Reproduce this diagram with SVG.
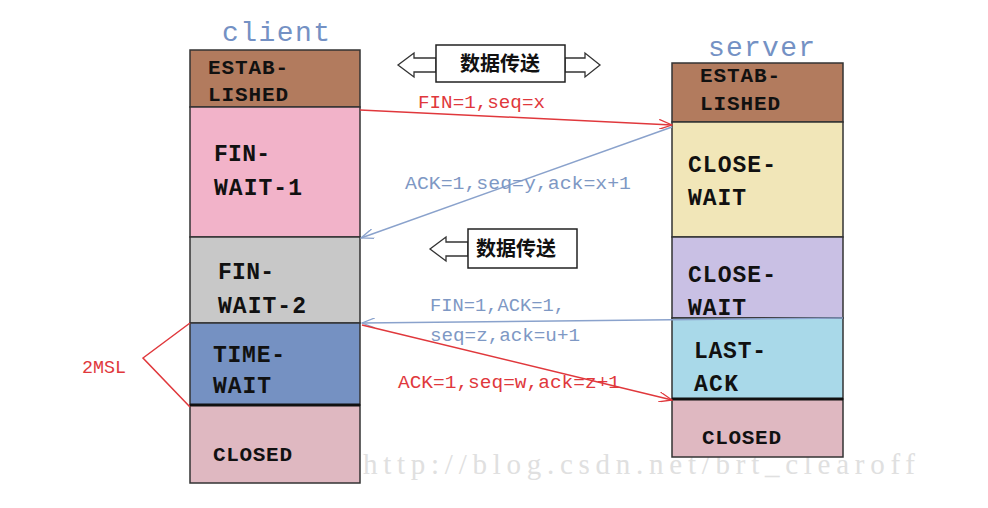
<svg xmlns="http://www.w3.org/2000/svg" width="988" height="508" viewBox="0 0 988 508">
<defs>
<style>
.st{font-family:"Liberation Mono","DejaVu Sans Mono",monospace;font-weight:bold;fill:#111;}
.hd{font-family:"Liberation Mono","DejaVu Sans Mono",monospace;fill:#7491c4;font-size:28px;}
.lr{font-family:"Liberation Mono","DejaVu Sans Mono",monospace;fill:#e0383c;font-size:18px;}
.lb{font-family:"Liberation Mono","DejaVu Sans Mono",monospace;fill:#7e98c4;font-size:18px;}
.cn{font-family:"Noto Sans CJK SC",sans-serif;font-weight:bold;font-size:20px;fill:#111;}
.box{stroke:#333;stroke-width:1.5;}
.red{stroke:#e0383c;stroke-width:1.5;fill:none;}
.blue{stroke:#8aa2cc;stroke-width:1.5;fill:none;}
.hol{fill:#fff;stroke:#333;stroke-width:1.3;}
</style>
<marker id="ar" markerWidth="14" markerHeight="10" refX="13" refY="5" orient="auto" markerUnits="userSpaceOnUse"><path d="M0,0 L13,5 L0,10" fill="none" stroke="#e0383c" stroke-width="1.3"/></marker>
<marker id="ab" markerWidth="14" markerHeight="10" refX="13" refY="5" orient="auto" markerUnits="userSpaceOnUse"><path d="M0,0 L13,5 L0,10" fill="none" stroke="#8aa2cc" stroke-width="1.3"/></marker>
</defs>
<rect width="988" height="508" fill="#fff"/>

<text x="363" y="474" font-family="Liberation Serif,serif" font-size="29" fill="#e0e0e0" textLength="552">http://blog.csdn.net/brt_clearoff</text>

<text class="hd" x="222" y="41" textLength="108">client</text>
<text class="hd" x="708" y="56" textLength="107">server</text>

<g id="client-established"><rect class="box" x="190" y="50" width="170" height="57" fill="#b27b5e"/><text class="st" x="208" y="74" font-size="21" textLength="80">ESTAB-</text><text class="st" x="208" y="101" font-size="21" textLength="80">LISHED</text></g>
<g id="client-finwait1"><rect class="box" x="190" y="107" width="170" height="130" fill="#f2b3c9"/><text class="st" x="214" y="161" font-size="23" textLength="56">FIN-</text><text class="st" x="214" y="195" font-size="23" textLength="88">WAIT-1</text></g>
<g id="client-finwait2"><rect class="box" x="190" y="237" width="170" height="86" fill="#c8c8c8"/><text class="st" x="218" y="279" font-size="23" textLength="56">FIN-</text><text class="st" x="218" y="313" font-size="23" textLength="88">WAIT-2</text></g>
<g id="client-timewait"><rect class="box" x="190" y="323" width="170" height="82" fill="#7591c2"/><text class="st" x="213" y="362" font-size="23" textLength="72">TIME-</text><text class="st" x="213" y="393" font-size="23" textLength="58">WAIT</text></g>
<g id="client-closed"><rect class="box" x="190" y="405" width="170" height="78" fill="#dfb8c1"/><text class="st" x="213" y="461" font-size="21" textLength="79">CLOSED</text></g>
<line x1="190" y1="405" x2="360" y2="405" stroke="#111" stroke-width="3"/>

<g id="server-established"><rect class="box" x="672" y="63" width="171" height="59" fill="#b27b5e"/><text class="st" x="700" y="82" font-size="21" textLength="80">ESTAB-</text><text class="st" x="700" y="110" font-size="21" textLength="80">LISHED</text></g>
<g id="server-closewait1"><rect class="box" x="672" y="122" width="171" height="115" fill="#f1e6b8"/><text class="st" x="688" y="172" font-size="23" textLength="88">CLOSE-</text><text class="st" x="688" y="205" font-size="23" textLength="58">WAIT</text></g>
<g id="server-closewait2"><rect class="box" x="672" y="237" width="171" height="81" fill="#c9c0e4"/><text class="st" x="688" y="282" font-size="23" textLength="88">CLOSE-</text><text class="st" x="688" y="315" font-size="23" textLength="58">WAIT</text></g>
<g id="server-lastack"><rect class="box" x="672" y="318" width="171" height="81" fill="#a9d9e9"/><text class="st" x="694" y="358" font-size="23" textLength="72">LAST-</text><text class="st" x="694" y="391" font-size="23" textLength="44">ACK</text></g>
<g id="server-closed"><rect class="box" x="672" y="399" width="171" height="58" fill="#dfb8c1"/><text class="st" x="702" y="444" font-size="21" textLength="79">CLOSED</text></g>
<line x1="672" y1="399" x2="843" y2="399" stroke="#111" stroke-width="3"/>

<g id="data-top">
<path class="hol" d="M436,58 L414,58 L414,53 L398,65 L414,77 L414,72 L436,72 Z"/>
<path class="hol" d="M565,58 L585,58 L585,53 L600,65 L585,77 L585,72 L565,72 Z"/>
<rect x="436" y="45" width="129" height="37" fill="#fff" stroke="#222" stroke-width="1.5"/>
<text class="cn" x="460" y="71">数据传送</text>
</g>
<g id="data-mid">
<path class="hol" d="M468,242 L446,242 L446,237 L430,249 L446,261 L446,256 L468,256 Z"/>
<rect x="468" y="229" width="109" height="39" fill="#fff" stroke="#222" stroke-width="1.5"/>
<text class="cn" x="476" y="256">数据传送</text>
</g>

<g id="connectors">
<line class="red" x1="360" y1="110" x2="672" y2="125" marker-end="url(#ar)"/>
<line class="blue" x1="672" y1="127" x2="361" y2="238" marker-end="url(#ab)"/>
<line class="blue" x1="843" y1="318" x2="362" y2="323" marker-end="url(#ab)"/>
<line class="red" x1="362" y1="325" x2="672" y2="400" marker-end="url(#ar)"/>
<polyline class="red" stroke-width="1" points="190,323 143,358 190,407"/>
</g>

<text class="lr" x="418" y="108" textLength="127" lengthAdjust="spacingAndGlyphs">FIN=1,seq=x</text>
<text class="lb" x="405" y="189" textLength="226" lengthAdjust="spacingAndGlyphs">ACK=1,seq=y,ack=x+1</text>
<text class="lb" x="430" y="311" textLength="135" lengthAdjust="spacingAndGlyphs">FIN=1,ACK=1,</text>
<text class="lb" x="430" y="341" textLength="150" lengthAdjust="spacingAndGlyphs">seq=z,ack=u+1</text>
<text class="lr" x="398" y="388" textLength="222" lengthAdjust="spacingAndGlyphs">ACK=1,seq=w,ack=z+1</text>
<text class="lr" x="82" y="373" textLength="44" lengthAdjust="spacingAndGlyphs">2MSL</text>
</svg>
